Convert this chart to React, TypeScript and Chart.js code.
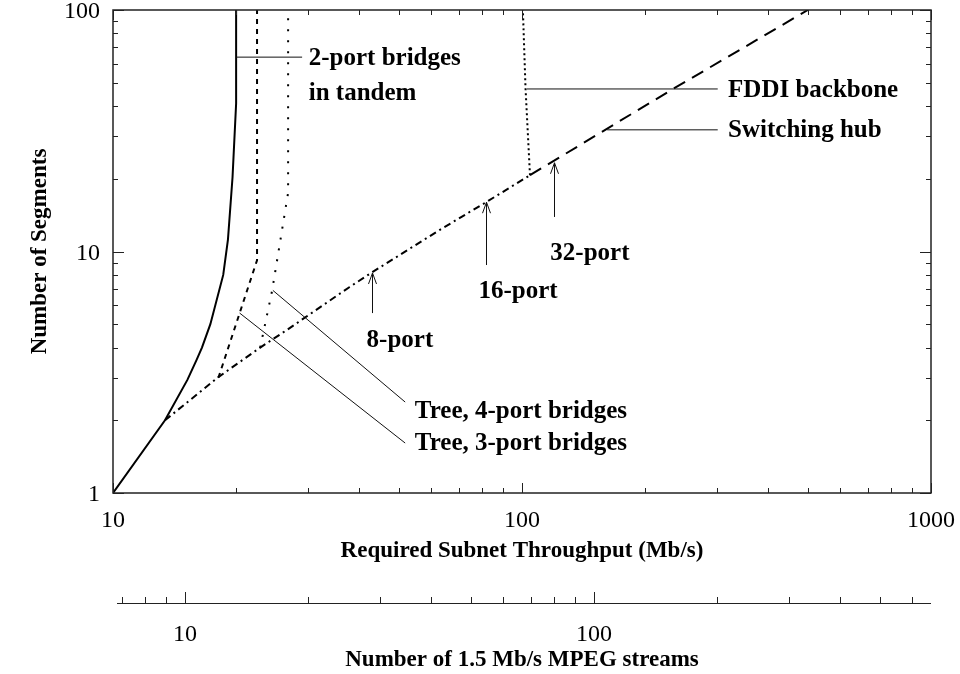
import React, { useEffect, useRef } from "react";
import { Chart, registerables } from "chart.js";
Chart.register(...registerables);

const FONT = '"Liberation Serif", "Times New Roman", serif';

// ---- series data (x: Mb/s, y: segments) ----
const tandemX = [10, 13.4, 15.2, 16.0, 16.5, 17.3, 18.6, 19.1, 19.6, 20.0, 20.0];
const tandemY = [1, 2, 2.94, 3.55, 4.0, 5.0, 8.0, 11.2, 20.3, 41, 100];

const tree3X = [18.1, 22.5, 22.5];
const tree3Y = [3.0, 9.2, 100];

const tree4X = [22.9, 24.5, 26.8, 26.8];
const tree4Y = [4.0, 6.9, 17.5, 100];

const sharedX = [13.4, 18.1, 22.9, 26.6, 37.9, 43, 63, 81.7, 104.6];
const sharedY = [2, 3.02, 4.0, 4.73, 7.13, 8.2, 12.3, 16.0, 20.7];

const fddiX = [104.6, 102, 100.5];
const fddiY = [20.7, 47.5, 100];

const hubX = [104.6, 234, 500];
const hubY = [20.7, 47.1, 100];

// ---- axes ----
const xTickValues = [10, 100, 1000];
const yTickValues = [1, 10, 100];
const streamTickValues = [10, 100];
const mbpsPerStream = 1.5;
const xTitle = "Required Subnet Throughput (Mb/s)";
const yTitle = "Number of Segments";
const streamTitle = "Number of 1.5 Mb/s MPEG streams";

// ---- annotations (data coordinates) ----
const leaderLines = [
  { x1: 20, y1: 63.8, x2: 29, y2: 63.8 },
  { x1: 102.8, y1: 47.1, x2: 301, y2: 47.1 },
  { x1: 161.5, y1: 31.9, x2: 301, y2: 31.9 },
  { x1: 24.6, y1: 6.9, x2: 51.8, y2: 2.38 },
  { x1: 20.4, y1: 5.56, x2: 51.8, y2: 1.61 },
];
const arrows = [
  { x: 43.0, yFrom: 5.56, yTo: 8.15 },
  { x: 81.6, yFrom: 8.79, yTo: 16.0 },
  { x: 119.7, yFrom: 13.9, yTo: 23.3 },
];
const textLabels = [
  { text: "2-port bridges", x: 30.1, y: 59.2, align: "left" },
  { text: "in tandem", x: 30.1, y: 42.4, align: "left" },
  { text: "FDDI backbone", x: 319, y: 43.6, align: "left" },
  { text: "Switching hub", x: 319, y: 29.8, align: "left" },
  { text: "32-port", x: 146.6, y: 9.22, align: "center" },
  { text: "16-port", x: 97.8, y: 6.42, align: "center" },
  { text: "8-port", x: 50.3, y: 4.02, align: "center" },
  { text: "Tree, 4-port bridges", x: 54.7, y: 2.045, align: "left" },
  { text: "Tree, 3-port bridges", x: 54.7, y: 1.507, align: "left" },
];

function pts(xs: number[], ys: number[]) {
  return xs.map((x, i) => ({ x, y: ys[i] }));
}

function logMinor(min: number, max: number) {
  const out: { v: number; major: boolean }[] = [];
  let dec = Math.pow(10, Math.floor(Math.log10(min)));
  while (dec <= max) {
    for (let m = 1; m <= 9; m++) {
      const v = m * dec;
      if (v >= min * 0.9999 && v <= max * 1.0001) out.push({ v, major: m === 1 });
    }
    dec *= 10;
  }
  return out;
}

const framePlugin = {
  id: "frameAndNotes",
  afterDraw(chart: any) {
    const ctx = chart.ctx as CanvasRenderingContext2D;
    const xs = chart.scales.x;
    const ys = chart.scales.y;
    const a = chart.chartArea;
    ctx.save();
    ctx.strokeStyle = "#222";
    ctx.fillStyle = "#000";
    // frame
    ctx.lineWidth = 1.5;
    ctx.strokeRect(a.left, a.top, a.right - a.left, a.bottom - a.top);
    // ticks
    ctx.lineWidth = 1;
    for (const t of logMinor(10, 1000)) {
      const px = Math.round(xs.getPixelForValue(t.v)) + 0.5;
      const len = t.major ? 10 : 5;
      ctx.beginPath();
      ctx.moveTo(px, a.bottom);
      ctx.lineTo(px, a.bottom - len);
      ctx.moveTo(px, a.top);
      ctx.lineTo(px, a.top + len);
      ctx.stroke();
    }
    for (const t of logMinor(1, 100)) {
      const py = Math.round(ys.getPixelForValue(t.v)) + 0.5;
      const len = t.major ? 11 : 5;
      ctx.beginPath();
      ctx.moveTo(a.left, py);
      ctx.lineTo(a.left + len, py);
      ctx.moveTo(a.right, py);
      ctx.lineTo(a.right - len, py);
      ctx.stroke();
    }
    // tick labels
    ctx.font = `24px ${FONT}`;
    ctx.textAlign = "right";
    ctx.textBaseline = "middle";
    for (const v of yTickValues) {
      ctx.fillText(String(v), a.left - 13, ys.getPixelForValue(v) + 2);
    }
    ctx.textAlign = "center";
    for (const v of xTickValues) {
      ctx.fillText(String(v), xs.getPixelForValue(v), a.bottom + 28);
    }
    // axis titles
    ctx.font = `bold 23px ${FONT}`;
    ctx.fillText(xTitle, (a.left + a.right) / 2, a.bottom + 58);
    ctx.save();
    ctx.translate(40, (a.top + a.bottom) / 2);
    ctx.rotate(-Math.PI / 2);
    ctx.fillText(yTitle, 0, 0);
    ctx.restore();

    // secondary axis (MPEG streams)
    const axY = a.bottom + 110;
    ctx.lineWidth = 1.2;
    ctx.beginPath();
    ctx.moveTo(a.left + 4, axY + 0.5);
    ctx.lineTo(a.right, axY + 0.5);
    ctx.stroke();
    ctx.lineWidth = 1;
    const sMin = 10 / mbpsPerStream;
    const sMax = 1000 / mbpsPerStream;
    for (const t of logMinor(sMin, sMax)) {
      const px = Math.round(xs.getPixelForValue(t.v * mbpsPerStream)) + 0.5;
      const len = t.major ? 11 : 6;
      ctx.beginPath();
      ctx.moveTo(px, axY);
      ctx.lineTo(px, axY - len);
      ctx.stroke();
    }
    ctx.font = `24px ${FONT}`;
    for (const v of streamTickValues) {
      ctx.fillText(String(v), xs.getPixelForValue(v * mbpsPerStream), axY + 32);
    }
    ctx.font = `bold 23px ${FONT}`;
    ctx.fillText(streamTitle, (a.left + a.right) / 2, axY + 57);

    // leader lines
    ctx.lineWidth = 1;
    ctx.strokeStyle = "#111";
    for (const l of leaderLines) {
      ctx.beginPath();
      ctx.moveTo(xs.getPixelForValue(l.x1), ys.getPixelForValue(l.y1));
      ctx.lineTo(xs.getPixelForValue(l.x2), ys.getPixelForValue(l.y2));
      ctx.stroke();
    }
    // arrows
    for (const ar of arrows) {
      const px = Math.round(xs.getPixelForValue(ar.x)) + 0.5;
      const y0 = ys.getPixelForValue(ar.yFrom);
      const y1 = ys.getPixelForValue(ar.yTo);
      ctx.beginPath();
      ctx.moveTo(px, y0);
      ctx.lineTo(px, y1);
      ctx.moveTo(px - 4, y1 + 11);
      ctx.lineTo(px, y1);
      ctx.lineTo(px + 4, y1 + 11);
      ctx.stroke();
    }
    // text labels
    ctx.font = `bold 25px ${FONT}`;
    ctx.textBaseline = "alphabetic";
    for (const t of textLabels) {
      ctx.textAlign = t.align as CanvasTextAlign;
      ctx.fillText(t.text, xs.getPixelForValue(t.x), ys.getPixelForValue(t.y));
    }
    ctx.restore();
  },
};

export default function App() {
  const ref = useRef<HTMLCanvasElement | null>(null);
  useEffect(() => {
    if (!ref.current) return;
    const line = (label: string, data: any[], dash: number[], width = 2) => ({
      label,
      data,
      showLine: true,
      borderColor: "#000",
      backgroundColor: "#000",
      borderWidth: width,
      borderDash: dash,
      pointRadius: 0,
      tension: 0,
      fill: false,
    });
    const chart = new Chart(ref.current, {
      type: "scatter",
      data: {
        datasets: [
          line("2-port bridges in tandem", pts(tandemX, tandemY), []),
          line("Tree, 3-port bridges", pts(tree3X, tree3Y), [5, 5]),
          line("Tree, 4-port bridges", pts(tree4X, tree4Y), [2, 9]),
          line("Shared (switching hub / FDDI)", pts(sharedX, sharedY), [7, 4, 2, 4]),
          line("FDDI backbone", pts(fddiX, fddiY), [2, 3]),
          line("Switching hub", pts(hubX, hubY), [13, 8]),
        ],
      },
      options: {
        animation: false,
        responsive: false,
        devicePixelRatio: 1,
        layout: { padding: { left: 113, top: 10, right: 29, bottom: 181 } },
        plugins: { legend: { display: false }, tooltip: { enabled: false } },
        scales: {
          x: { type: "logarithmic", min: 10, max: 1000, display: false },
          y: { type: "logarithmic", min: 1, max: 100, display: false },
        },
      },
      plugins: [framePlugin],
    });
    return () => chart.destroy();
  }, []);
  return (
    <div style={{ position: "fixed", left: 0, top: 0, width: 960, height: 674, background: "#fff" }}>
      <canvas ref={ref} width={960} height={674} style={{ display: "block" }} />
    </div>
  );
}
